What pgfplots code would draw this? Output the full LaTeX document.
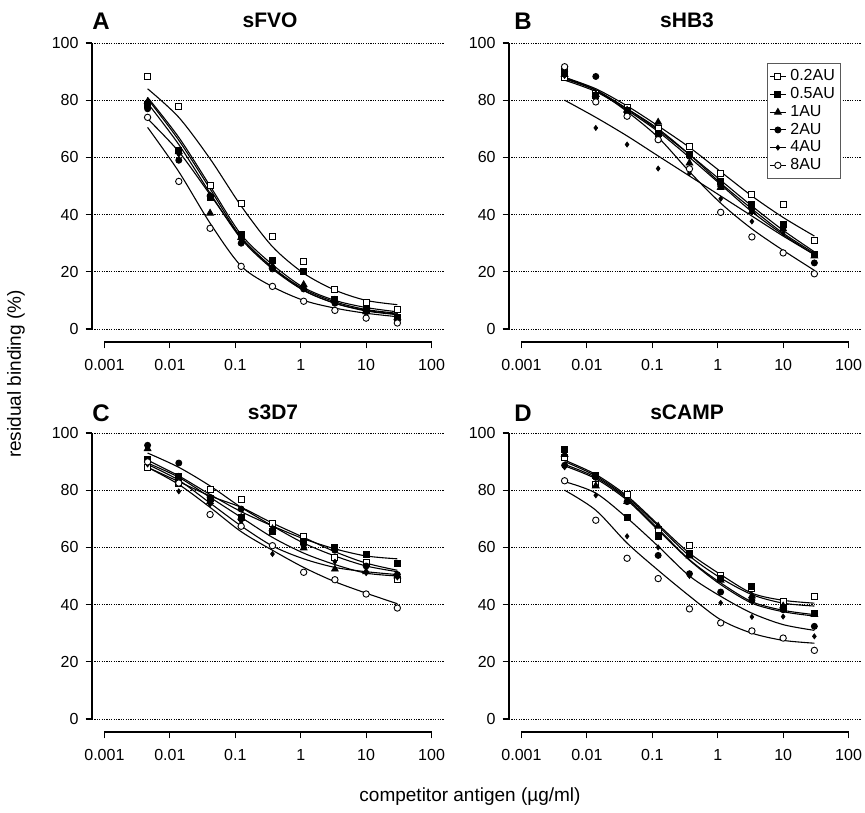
\documentclass[border=0pt]{standalone}
\usepackage{fontspec}
\setmainfont{Liberation Sans}
\usepackage{pgfplots}
\usepackage{pgfplotstable}
\pgfplotsset{compat=1.18}

\pgfplotstableread{
x       m02  m05  m1   m2   m4   m8   c02  c05  c1   c2   c4   c8
0.00457 88.3 78.5 79.5 77.0 78.0 74.0 84.0 81.0 80.5 79.0 73.5 70.5
0.0137  77.9 62.5 62.0 59.0 61.0 51.6 74.0 67.0 66.0 64.5 62.0 55.0
0.0412  50.3 46.0 40.5 46.5 47.0 35.2 59.5 50.0 49.0 47.5 47.0 37.0
0.123   44.0 33.0 32.0 30.0 31.0 21.9 43.0 33.0 32.0 31.5 32.0 22.0
0.370   32.4 24.0 22.0 21.0 21.0 14.9 28.8 22.5 21.5 21.0 21.5 14.8
1.11    23.7 20.0 15.5 14.0 14.0  9.7 19.5 14.5 13.5 13.5 14.0 10.0
3.33    13.8 10.5 10.0  9.0  9.5  6.5 13.6 10.0  9.0  9.0  9.5  7.3
10       9.3  7.0  6.0  6.0  6.0  3.8 10.0  7.5  6.5  6.3  6.8  5.5
30       6.8  4.0  4.0  3.0  4.0  2.1  8.5  6.0  5.2  5.0  5.5  4.3
}\panelA
\pgfplotstableread{
x       m02  m05  m1   m2   m4   m8   c02  c05  c1   c2   c4   c8
0.00457 88.0 90.0 89.0 90.0 88.5 91.7 88.0 88.0 87.5 87.0 80.0 87.5
0.0137  82.2 81.5 82.0 88.3 70.3 79.4 84.0 83.5 83.5 83.0 74.0 83.5
0.0412  77.6 76.5 76.5 76.0 64.5 74.4 78.0 77.0 77.0 76.5 67.5 76.0
0.123   70.0 68.5 72.3 68.0 56.1 66.2 71.0 69.5 70.0 69.0 60.5 67.0
0.370   63.9 61.0 58.0 60.4 54.5 56.0 63.5 61.0 61.0 60.0 53.5 55.0
1.11    54.3 51.6 49.5 50.0 45.5 40.8 55.0 52.0 51.0 50.5 46.5 44.0
3.33    47.0 43.5 41.1 42.0 37.6 32.2 46.5 43.0 42.0 41.0 39.5 35.0
10      43.4 36.5 35.0 35.5 33.5 26.6 39.0 34.5 33.5 33.0 32.5 27.5
30      30.8 26.0 25.5 23.1 26.0 19.3 32.5 27.0 26.5 26.0 26.0 20.5
}\panelB
\pgfplotstableread{
x       m02  m05  m1   m2   m4   m8   c02  c05  c1   c2   c4   c8
0.00457 87.8 90.9 94.5 95.7 89.0 89.9 88.0 90.5 89.5 93.0 89.0 88.0
0.0137  82.5 84.8 84.5 89.5 79.6 82.5 83.0 85.0 84.5 88.0 83.5 82.0
0.0412  80.4 77.0 76.0 77.5 75.0 71.5 78.0 78.5 77.5 81.5 75.5 74.0
0.123   76.7 70.3 70.5 73.4 69.0 67.4 74.0 72.5 70.5 74.0 67.5 65.5
0.370   68.3 65.6 66.5 66.0 57.7 60.6 68.5 67.5 63.5 67.5 60.5 59.0
1.11    63.9 62.1 59.8 61.0 61.0 51.3 63.5 63.0 58.0 61.5 56.0 53.0
3.33    56.6 60.0 52.4 59.0 55.0 48.7 58.5 59.5 54.0 57.0 53.0 48.0
10      54.9 57.5 51.5 53.5 51.0 43.7 54.5 57.0 51.0 53.5 51.5 44.0
30      48.7 54.5 50.0 50.5 49.5 38.8 52.0 56.0 50.0 51.5 50.5 40.3
}\panelC
\pgfplotstableread{
x       m02  m05  m1   m2   m4   m8   c02  c05  c1   c2   c4   c8
0.00457 91.3 94.2 92.5 88.7 88.0 83.3 90.5 89.0 90.0 88.5 83.0 80.0
0.0137  81.9 85.1 81.5 84.5 78.2 69.5 85.5 84.5 85.0 84.0 79.0 73.0
0.0412  78.4 70.6 76.0 76.0 63.9 56.2 78.0 77.0 77.5 76.5 70.3 61.5
0.123   66.2 63.9 67.4 57.2 60.0 49.1 68.0 66.5 67.5 66.0 60.4 52.0
0.370   60.7 58.0 57.0 50.8 50.0 38.5 58.0 55.7 57.0 55.5 50.0 43.0
1.11    50.2 49.0 48.5 44.4 40.6 33.6 50.5 47.6 49.3 47.0 42.9 34.7
3.33    45.5 46.4 43.0 41.5 35.7 30.8 44.0 41.0 43.5 40.5 37.0 30.0
10      41.1 38.8 39.5 38.2 35.8 28.3 41.5 38.0 40.5 37.5 33.0 27.5
30      42.9 36.9 36.5 32.4 28.9 24.0 40.5 36.5 39.5 36.0 31.0 26.5
}\panelD

% shorter legend samples than the default
\pgfplotsset{legend image code/.code={\draw[mark repeat=2, mark phase=2, #1]
            plot coordinates {(0cm,0cm) (0.14cm,0cm) (0.28cm,0cm)};}}

% shared look of the four panels
\pgfplotsset{
    every axis/.append style={
            scale only axis, width=176pt, height=149.5pt,
            xmin=6.46e-4, xmax=154.9, ymin=-4.55, ymax=100,
            axis x line*=bottom, axis y line*=left,
            axis line style={draw=none},
            tick align=outside, major tick length=3.2pt,
            tick style={black, line width=0.6pt},
            xtick={0.001,0.01,0.1,1,10,100},
            xticklabels={0.001,0.01,0.1,1,10,100},
            xminorticks=false,
            ytick={0,20,40,60,80,100},
            ymajorgrids,
            major grid style={black, line width=0.4pt, dash pattern=on 0.6pt off 0.6pt},
            tick label style={font=\fontsize{8}{9}\selectfont},
            xticklabel style={yshift=-1.8pt},
            yticklabel={\pgfmathprintnumber[assume math mode=true]{\tick}},
            clip=false,
        },
}
\tikzset{
    myfit/.style={black, line width=0.55pt, smooth},
    mys02/.style={mark=square*, mark size=1.5pt, mark options={fill=white, line width=0.45pt}},
    mys05/.style={mark=square*, mark size=1.5pt, mark options={fill=black, line width=0.45pt}},
    mys1/.style={mark=triangle*, mark size=1.9pt, mark options={fill=black, line width=0.45pt}},
    mys2/.style={mark=*, mark size=1.5pt, mark options={fill=black, line width=0.45pt}},
    mys4/.style={mark=diamond*, mark size=1.3pt, mark options={fill=black, line width=0.3pt}},
    mys8/.style={mark=*, mark size=1.6pt, mark options={fill=white, line width=0.45pt}},
}

% one panel = both axis lines, six fitted curves, then the six sets of points on top
\newcommand{\drawpanel}[1]{%
    \draw[black, line width=0.6pt] (axis cs:0.001,-4.55) -- (axis cs:100,-4.55);
    \draw[black, line width=0.6pt] (axis cs:6.46e-4,0) -- (axis cs:6.46e-4,100);
    \addplot[myfit, no markers, forget plot] table[x=x, y=c02] {#1};
    \addplot[myfit, no markers, forget plot] table[x=x, y=c05] {#1};
    \addplot[myfit, no markers, forget plot] table[x=x, y=c1] {#1};
    \addplot[myfit, no markers, forget plot] table[x=x, y=c2] {#1};
    \addplot[myfit, no markers, forget plot] table[x=x, y=c4] {#1};
    \addplot[myfit, no markers, forget plot] table[x=x, y=c8] {#1};
    \addplot[black, only marks, forget plot, mys02] table[x=x, y=m02] {#1};
    \addplot[black, only marks, forget plot, mys05] table[x=x, y=m05] {#1};
    \addplot[black, only marks, forget plot, mys1] table[x=x, y=m1] {#1};
    \addplot[black, only marks, forget plot, mys2] table[x=x, y=m2] {#1};
    \addplot[black, only marks, forget plot, mys4] table[x=x, y=m4] {#1};
    \addplot[black, only marks, forget plot, mys8] table[x=x, y=m8] {#1};
}

\begin{document}
\begin{tikzpicture}
    \path[use as bounding box] (0,0) rectangle (432.5pt,-406pt);

    \begin{semilogxaxis}[at={(46pt,-171pt)}, anchor=south west]
        \drawpanel{\panelA}
    \end{semilogxaxis}

    \begin{semilogxaxis}[at={(254.5pt,-171pt)}, anchor=south west,
            legend style={at={(0.733,0.932)}, anchor=north west, draw=black!65,
                    line width=0.4pt, font=\fontsize{8}{9}\selectfont,
                    inner sep=1pt, row sep=-2.2pt, cells={anchor=west}}]
        \drawpanel{\panelB}
        \addlegendimage{black, line width=0.5pt, mys02}
        \addlegendentry{0.2AU}
        \addlegendimage{black, line width=0.5pt, mys05}
        \addlegendentry{0.5AU}
        \addlegendimage{black, line width=0.5pt, mys1}
        \addlegendentry{1AU}
        \addlegendimage{black, line width=0.5pt, mys2}
        \addlegendentry{2AU}
        \addlegendimage{black, line width=0.5pt, mys4}
        \addlegendentry{4AU}
        \addlegendimage{black, line width=0.5pt, mys8}
        \addlegendentry{8AU}
    \end{semilogxaxis}

    \begin{semilogxaxis}[at={(46pt,-366pt)}, anchor=south west]
        \drawpanel{\panelC}
    \end{semilogxaxis}

    \begin{semilogxaxis}[at={(254.5pt,-366pt)}, anchor=south west]
        \drawpanel{\panelD}
    \end{semilogxaxis}

    % panel letters and titles
    \begin{scope}[every node/.style={font=\fontsize{12}{14}\selectfont\bfseries}]
        \node at (50.5pt,-10.5pt) {A};
        \node at (261.5pt,-10.5pt) {B};
        \node at (50.5pt,-206.5pt) {C};
        \node at (261.5pt,-206.5pt) {D};
    \end{scope}
    \begin{scope}[every node/.style={font=\fontsize{10.5}{12}\selectfont\bfseries}]
        \node at (135pt,-10pt) {sFVO};
        \node at (343.5pt,-10pt) {sHB3};
        \node at (136.5pt,-206pt) {s3D7};
        \node at (343.5pt,-206pt) {sCAMP};
    \end{scope}

    \node[rotate=90, font=\fontsize{9.5}{11}\selectfont] at (8pt,-187pt) {residual binding (\%)};
    \node[font=\fontsize{9.5}{11}\selectfont] at (235pt,-398.5pt) {competitor antigen (µg/ml)};
\end{tikzpicture}
\end{document}
